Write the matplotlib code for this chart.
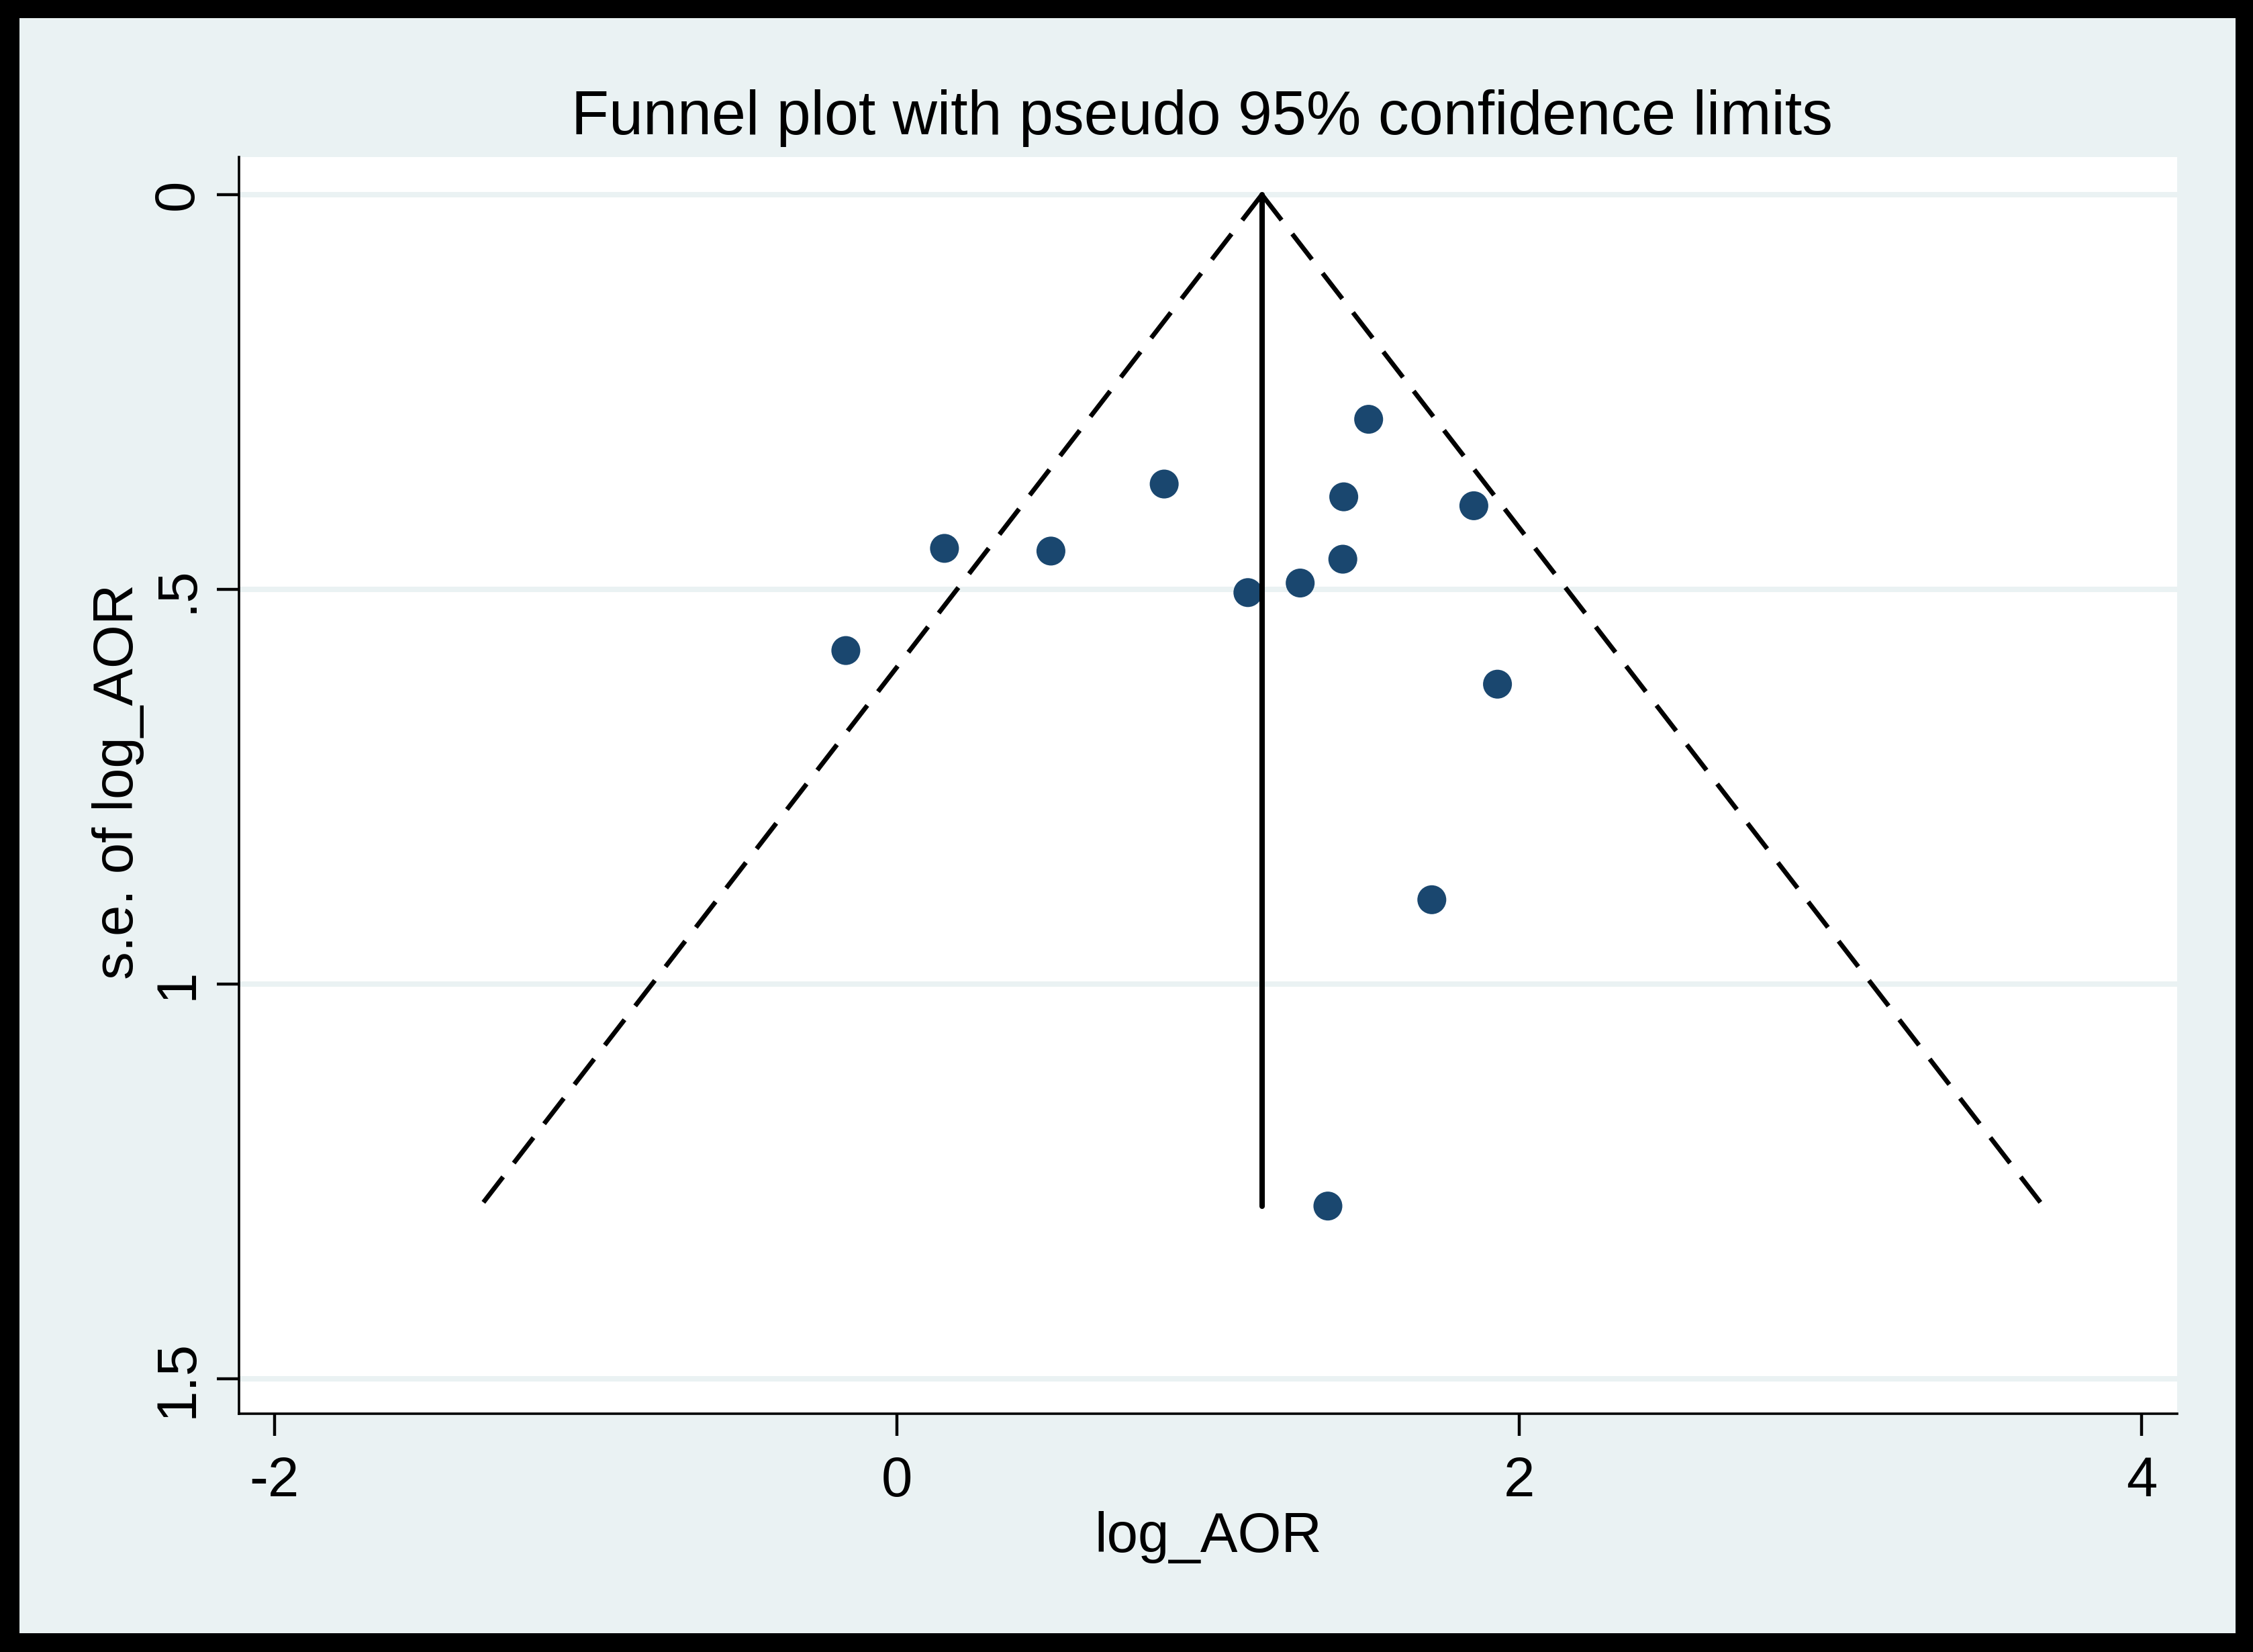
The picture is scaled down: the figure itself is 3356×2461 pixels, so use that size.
import matplotlib
matplotlib.use("Agg")
import matplotlib.pyplot as plt
import numpy as np
from matplotlib.patches import Rectangle

# study estimates
log_aor = [1.516, 0.859, 1.436, 1.854, 0.153, 0.495, 1.433,
           1.296, 1.128, -0.164, 1.930, 1.719, 1.385]
se_log_aor = [0.2845, 0.3665, 0.3827, 0.394, 0.448, 0.4514, 0.4617,
              0.4919, 0.504, 0.5774, 0.620, 0.893, 1.281]
pooled = 1.173
z95 = 1.96

x_ticks = [-2, 0, 2, 4]
y_ticks = [0, 0.5, 1, 1.5]
y_ticklabels = ["0", ".5", "1", "1.5"]

BG = "#EAF2F3"
MARKER = "#1A476F"
W, H, DPI = 3356, 2461, 200

plt.rcParams["font.family"] = ["Liberation Sans", "DejaVu Sans"]

fig = plt.figure(figsize=(W / DPI, H / DPI), dpi=DPI, facecolor="black")
fig.patches.append(Rectangle((29 / W, 1 - 2433 / H), (3330 - 29) / W, (2433 - 27) / H,
                             transform=fig.transFigure, facecolor=BG, edgecolor="none", zorder=-10))

ax = fig.add_axes([356 / W, 1 - 2106 / H, (3243 - 356) / W, (2106 - 234) / H])
ax.set_facecolor("white")

se_max = max(se_log_aor)

ax.scatter(log_aor, se_log_aor, s=15.5 ** 2, color=MARKER, edgecolors="none", zorder=2)
ax.plot([pooled, pooled], [0, se_max], color="black", lw=2.9,
        solid_capstyle="round", zorder=3)
ax.plot([pooled, pooled - z95 * se_max], [0, se_max], color="black", lw=2.5,
        linestyle=(0, (6.9, 3.75)), zorder=3)
ax.plot([pooled, pooled + z95 * se_max], [0, se_max], color="black", lw=2.5,
        linestyle=(0, (6.9, 3.75)), zorder=3)

ax.set_xlim(-2.114, 4.114)
ax.set_ylim(1.544, -0.0476)
ax.set_xticks(x_ticks)
ax.set_xticklabels([str(t) for t in x_ticks])
ax.set_yticks(y_ticks)
ax.set_yticklabels(y_ticklabels, rotation=90, va="center")

ax.grid(axis="y", color=BG, lw=2.9)
ax.grid(axis="x", visible=False)
ax.set_axisbelow(True)

for side in ["top", "right"]:
    ax.spines[side].set_visible(False)
for side in ["left", "bottom"]:
    ax.spines[side].set_linewidth(1.3)

ax.tick_params(axis="both", direction="out", length=11.9, width=1.6, labelsize=30)
ax.tick_params(axis="x", pad=10.5)
ax.tick_params(axis="y", pad=7)

ax.set_xlabel("log_AOR", fontsize=30)
ax.xaxis.label.set_va("baseline")
ax.xaxis.set_label_coords(0.5, -0.110)

ax.set_ylabel("s.e. of log_AOR", fontsize=30)
ax.yaxis.label.set_va("baseline")
ax.yaxis.set_label_coords(-0.0547, 0.503)

ax.set_title("Funnel plot with pseudo 95% confidence limits", fontsize=33.0,
             x=0.497, y=1.018, va="baseline", pad=0)

fig.savefig("out.png", dpi=DPI, facecolor=fig.get_facecolor())
